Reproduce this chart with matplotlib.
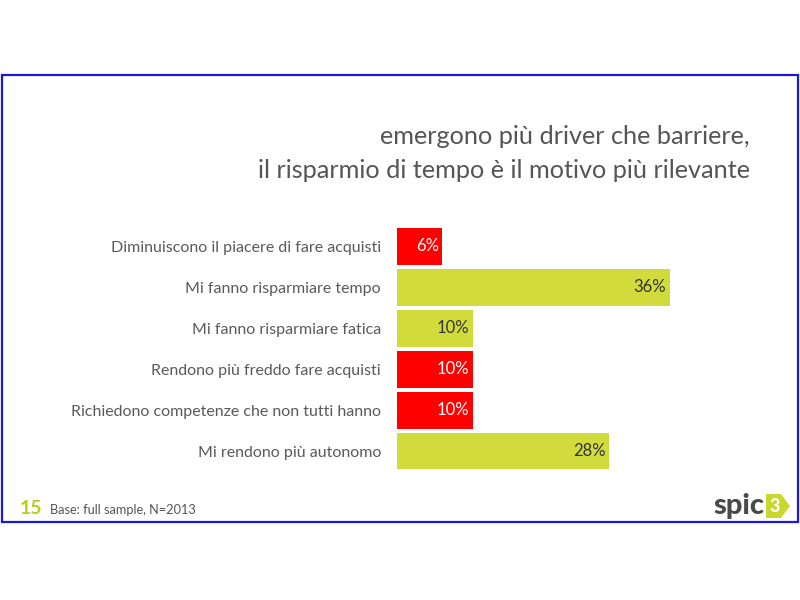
import matplotlib
matplotlib.use("Agg")
import matplotlib.pyplot as plt
from matplotlib.patches import Rectangle, Polygon

plt.rcParams['font.family'] = ['Lato', 'DejaVu Sans']

categories = [
    "Diminuiscono il piacere di fare acquisti",
    "Mi fanno risparmiare tempo",
    "Mi fanno risparmiare fatica",
    "Rendono più freddo fare acquisti",
    "Richiedono competenze che non tutti hanno",
    "Mi rendono più autonomo",
]
values = [6, 36, 10, 10, 10, 28]
kinds = ["barrier", "driver", "driver", "barrier", "barrier", "driver"]
labels = ["6%", "36%", "10%", "10%", "10%", "28%"]

RED = "#FF0000"
GREEN = "#D2DB3C"
colors = [RED if k == "barrier" else GREEN for k in kinds]
txtcol = ["white" if k == "barrier" else "#333333" for k in kinds]

fig = plt.figure(figsize=(8, 6), dpi=100)
fig.patch.set_facecolor("white")

# frame
fig.add_artist(Rectangle((0.002, 1 - 522/600), 0.996, (522 - 75)/600,
                         transform=fig.transFigure, fill=False,
                         edgecolor="#1a1ad6", linewidth=1.6))

ax = fig.add_axes([397/800, 1 - 471.5/600, 303/800, (471.5 - 226)/600])
y = list(range(len(categories)))
ax.barh(y, values, height=0.9, color=colors)
ax.set_xlim(0, 40)
ax.set_ylim(len(categories) - 0.5, -0.5)
ax.set_yticks(y)
ax.set_yticklabels(categories, fontsize=11.5, color="#5a5a5a")
ax.tick_params(axis="y", length=0, pad=11.5)
ax.set_xticks([])
for s in ax.spines.values():
    s.set_visible(False)

for yi, v, lab, tc in zip(y, values, labels, txtcol):
    ax.text(v - 0.5, yi, lab, ha="right", va="center", fontsize=12,
            color=tc)

# title
fig.text(750/800, 1 - 137/600, "emergono più driver che barriere,",
         ha="right", va="center", fontsize=18.2, color="#555555")
fig.text(750/800, 1 - 170/600, "il risparmio di tempo è il motivo più rilevante",
         ha="right", va="center", fontsize=18.2, color="#555555")

# footer
fig.text(20/800, 1 - 509/600, "15", ha="left", va="center", fontsize=14,
         color="#B8CC1E", fontweight="bold")
fig.text(50/800, 1 - 510/600, "Base: full sample, N=2013", ha="left", va="center",
         fontsize=9.2, color="#555555")

# logo
fig.text(764/800, 1 - 506/600, "spic", ha="right", va="center", fontsize=21,
         color="#4a4a4a", fontweight="black")
fx = lambda px: px/800
fy = lambda py: 1 - py/600
fig.add_artist(Polygon([(fx(766), fy(494)), (fx(781), fy(494)), (fx(790), fy(506)),
                        (fx(781), fy(518)), (fx(766), fy(518))],
                       closed=True, transform=fig.transFigure,
                       facecolor="#C9D82E", edgecolor="none"))
fig.text(fx(775), fy(506), "3", ha="center", va="center", fontsize=13,
         color="white", fontweight="black")

fig.savefig("out.png", dpi=100)
